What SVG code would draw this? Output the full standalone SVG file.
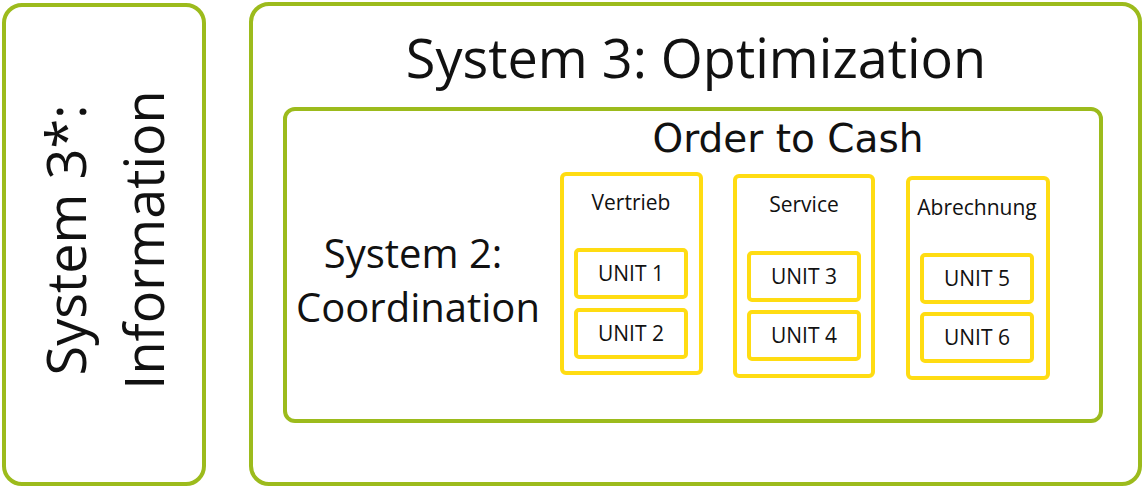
<svg xmlns="http://www.w3.org/2000/svg" width="1144" height="487" viewBox="0 0 1144 487">
<style>
.g{fill:#fff;stroke:#9cbb1c;stroke-width:4}
.y{fill:#fff;stroke:#ffdc12;stroke-width:4}
text{font-family:"Open Sans","Noto Sans",sans-serif;fill:#111;text-anchor:middle}
.u{font-size:21px}
.h{font-size:21px}
</style>
<rect width="1144" height="487" fill="#fff"/>
<g id="system3star">
<rect class="g" x="4" y="5" width="200" height="479" rx="18"/>
<text transform="translate(86,240) rotate(-90)" font-size="54">System 3*:</text>
<text transform="translate(164,240) rotate(-90)" font-size="54">Information</text>
</g>
<g id="system3">
<rect class="g" x="251" y="4" width="889" height="480" rx="18"/>
<text x="696" y="78" font-size="54">System 3: Optimization</text>
</g>
<g id="system2">
<rect class="g" x="285" y="109" width="816" height="312" rx="10"/>
<text x="788" y="152" font-size="39" style="font-family:'DejaVu Sans',sans-serif">Order to Cash</text>
<text x="413" y="268" font-size="40">System 2:</text>
<text x="418" y="322" font-size="40">Coordination</text>
</g>
<g id="vertrieb">
<rect class="y" x="562" y="174" width="139" height="199" rx="4"/>
<text class="h" x="631" y="210">Vertrieb</text>
</g>
<g id="service">
<rect class="y" x="735" y="176" width="138" height="200" rx="4"/>
<text class="h" x="804" y="212">Service</text>
</g>
<g id="abrechnung">
<rect class="y" x="908" y="178" width="140" height="200" rx="4"/>
<text class="h" x="977" y="215">Abrechnung</text>
</g>
<g id="unit1"><rect class="y" x="576" y="250" width="110" height="47" rx="3"/><text class="u" x="631" y="281">UNIT 1</text></g>
<g id="unit2"><rect class="y" x="576" y="310" width="110" height="47" rx="3"/><text class="u" x="631" y="341">UNIT 2</text></g>
<g id="unit3"><rect class="y" x="749" y="253" width="110" height="47" rx="3"/><text class="u" x="804" y="284">UNIT 3</text></g>
<g id="unit4"><rect class="y" x="749" y="312" width="110" height="47" rx="3"/><text class="u" x="804" y="343">UNIT 4</text></g>
<g id="unit5"><rect class="y" x="922" y="255" width="110" height="47" rx="3"/><text class="u" x="977" y="286">UNIT 5</text></g>
<g id="unit6"><rect class="y" x="922" y="314" width="110" height="47" rx="3"/><text class="u" x="977" y="345">UNIT 6</text></g>
<g id="connectors"/>
</svg>
